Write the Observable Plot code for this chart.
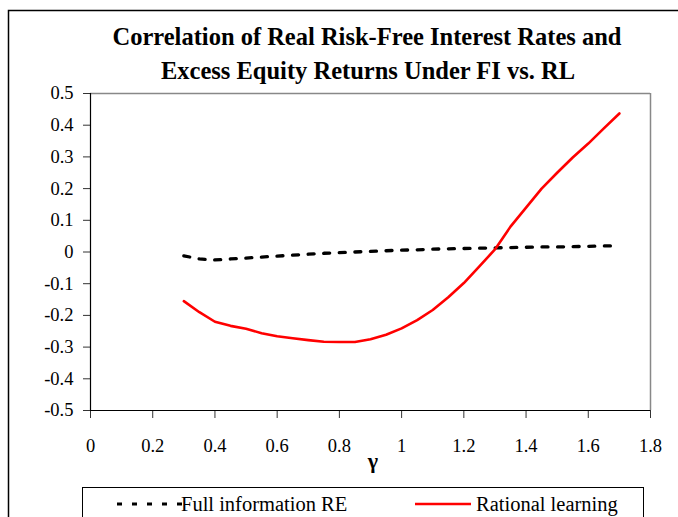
<!DOCTYPE html>
<html>
<head>
<meta charset="utf-8">
<script src="https://cdn.jsdelivr.net/npm/d3@7"></script>
<script src="https://cdn.jsdelivr.net/npm/@observablehq/plot@0.6"></script>
<style>
  html, body { margin: 0; padding: 0; background: #fff; }
</style>
</head>
<body>
<div id="chart"></div>
<script>
const titleLines = ["Correlation of Real Risk-Free Interest Rates and", "Excess Equity Returns Under FI vs. RL"];
const xLabel = "γ";
const seriesNames = ["Full information RE", "Rational learning"];
const gammas = [0.30,0.35,0.40,0.45,0.50,0.55,0.60,0.65,0.70,0.75,0.80,0.85,0.90,0.95,1.00,1.05,1.10,1.15,1.20,1.25,1.30,1.35,1.40,1.45,1.50,1.55,1.60,1.65,1.70];
const fullInfoRE = [-0.012,-0.022,-0.025,-0.022,-0.019,-0.016,-0.013,-0.010,-0.007,-0.004,-0.002,0.000,0.002,0.004,0.006,0.007,0.009,0.010,0.011,0.012,0.013,0.014,0.015,0.016,0.016,0.017,0.018,0.019,0.020];
const rationalLearning = [-0.155,-0.190,-0.220,-0.233,-0.242,-0.256,-0.266,-0.272,-0.278,-0.283,-0.284,-0.284,-0.275,-0.261,-0.241,-0.215,-0.183,-0.143,-0.098,-0.045,0.008,0.080,0.140,0.200,0.250,0.298,0.342,0.390,0.437];
const xTicks = [0,0.2,0.4,0.6,0.8,1.0,1.2,1.4,1.6,1.8];
const yTicks = [-0.5,-0.4,-0.3,-0.2,-0.1,0,0.1,0.2,0.3,0.4,0.5];

const fiRows = gammas.map((g, i) => ({g, v: fullInfoRE[i]}));
const rlRows = gammas.map((g, i) => ({g, v: rationalLearning[i]}));
const fmt = d => String(+d.toFixed(1));

const W = 678, H = 517;
const svg = Plot.plot({
  width: W,
  height: H,
  marginLeft: 90,
  marginRight: 28,
  marginTop: 93,
  marginBottom: 107,
  style: {fontFamily: "'Liberation Serif', serif", fontSize: "18px", background: "#fff", color: "#000"},
  x: {domain: [0, 1.8], label: null},
  y: {domain: [-0.5, 0.5], label: null},
  marks: [
    Plot.ruleY([0.5], {stroke: "#888", strokeWidth: 1.5}),
    Plot.ruleX([1.8], {stroke: "#888", strokeWidth: 1.5}),
    Plot.axisX({ticks: xTicks, tickFormat: fmt, tickSize: 8, tickPadding: 20, stroke: "#333", fill: "#000", fontSize: 18.5, label: null}),
    Plot.axisY({ticks: yTicks, tickFormat: fmt, tickSize: 7, tickPadding: 10, stroke: "#333", fill: "#000", fontSize: 18.5, label: null}),
    Plot.ruleY([-0.5], {stroke: "#000", strokeWidth: 1.2}),
    Plot.ruleX([0], {stroke: "#000", strokeWidth: 1.2}),
    Plot.line(fiRows, {x: "g", y: "v", stroke: "#000", strokeWidth: 3.3, strokeDasharray: "6,9.6"}),
    Plot.line(rlRows, {x: "g", y: "v", stroke: "#ff0000", strokeWidth: 2.6})
  ]
});

const s = d3.select(svg);
// outer frame
s.append("path").attr("d", `M8.5,${H} V10.5 H${W}`).attr("fill", "none").attr("stroke", "#000").attr("stroke-width", 1.5);
// title
s.append("text").attr("x", 367).attr("y", 45).attr("text-anchor", "middle")
  .attr("font-weight", "bold").attr("font-size", 24.5).attr("fill", "#000").text(titleLines[0]);
s.append("text").attr("x", 368).attr("y", 79).attr("text-anchor", "middle")
  .attr("font-weight", "bold").attr("font-size", 24.5).attr("fill", "#000").text(titleLines[1]);
// x label
s.append("text").attr("x", 373).attr("y", 468).attr("text-anchor", "middle")
  .attr("font-weight", "bold").attr("font-size", 22).attr("fill", "#000").text(xLabel);
// legend
s.append("rect").attr("x", 82.5).attr("y", 487.5).attr("width", 561).attr("height", 60)
  .attr("fill", "#fff").attr("stroke", "#000").attr("stroke-width", 1);
s.append("line").attr("x1", 117).attr("x2", 182).attr("y1", 504).attr("y2", 504)
  .attr("stroke", "#000").attr("stroke-width", 3).attr("stroke-dasharray", "5,10");
s.append("text").attr("x", 181).attr("y", 511).attr("text-anchor", "start")
  .attr("font-size", 20.5).attr("fill", "#000").text(seriesNames[0]);
s.append("line").attr("x1", 415).attr("x2", 471).attr("y1", 504).attr("y2", 504)
  .attr("stroke", "#ff0000").attr("stroke-width", 2.6);
s.append("text").attr("x", 476).attr("y", 511).attr("text-anchor", "start")
  .attr("font-size", 20.5).attr("fill", "#000").text(seriesNames[1]);

document.getElementById("chart").appendChild(svg);
</script>
</body>
</html>
